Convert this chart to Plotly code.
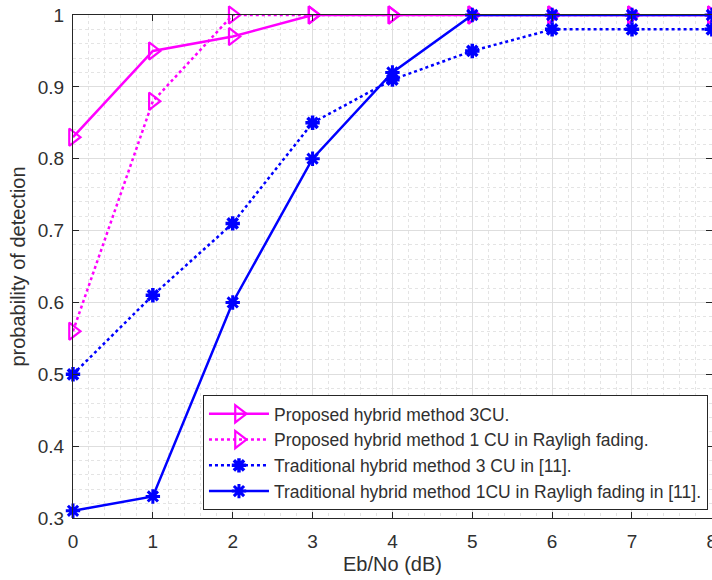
import plotly.graph_objects as go

ebno = [0, 1, 2, 3, 4, 5, 6, 7, 8]
proposed_3cu = [0.83, 0.95, 0.97, 1.0, 1.0, 1.0, 1.0, 1.0, 1.0]
proposed_1cu = [0.56, 0.88, 1.0, 1.0, 1.0, 1.0, 1.0, 1.0, 1.0]
traditional_3cu = [0.50, 0.61, 0.71, 0.85, 0.91, 0.95, 0.98, 0.98, 0.98]
traditional_1cu = [0.31, 0.33, 0.60, 0.80, 0.92, 1.0, 1.0, 1.0, 1.0]

y_ticks = [0.3, 0.4, 0.5, 0.6, 0.7, 0.8, 0.9, 1.0]
y_ticktext = ["0.3", "0.4", "0.5", "0.6", "0.7", "0.8", "0.9", "1"]

names = [
    "Proposed hybrid method 3CU.",
    "Proposed hybrid method 1 CU in Rayligh fading.",
    "Traditional hybrid method 3 CU in [11].",
    "Traditional hybrid method 1CU in Rayligh fading in [11].",
]

MAG = "#ff00ff"
BLUE = "#0000ff"
FONT = "Liberation Sans, Arial, sans-serif"
TXT = "#303030"

fig = go.Figure()
fig.add_trace(go.Scatter(
    x=ebno, y=proposed_3cu, name=names[0], mode="lines+markers",
    line=dict(color=MAG, width=2.5),
    marker=dict(symbol="triangle-right-open", size=15, color=MAG, line=dict(width=2.2, color=MAG)),
    cliponaxis=False))
fig.add_trace(go.Scatter(
    x=ebno, y=proposed_1cu, name=names[1], mode="lines+markers",
    line=dict(color=MAG, width=2.5, dash="dot"),
    marker=dict(symbol="triangle-right-open", size=15, color=MAG, line=dict(width=2.2, color=MAG)),
    cliponaxis=False))
fig.add_trace(go.Scatter(
    x=ebno, y=traditional_3cu, name=names[2], mode="lines+markers",
    line=dict(color=BLUE, width=2.5, dash="dot"),
    marker=dict(symbol="asterisk-open", size=12, color=BLUE, line=dict(width=3.5, color=BLUE)),
    cliponaxis=False))
fig.add_trace(go.Scatter(
    x=ebno, y=traditional_1cu, name=names[3], mode="lines+markers",
    line=dict(color=BLUE, width=2.5),
    marker=dict(symbol="asterisk-open", size=12, color=BLUE, line=dict(width=3, color=BLUE)),
    cliponaxis=False))

axis_common = dict(
    showline=True, linecolor="#262626", linewidth=1, mirror="ticks",
    ticks="inside", ticklen=6, tickcolor="#262626",
    showgrid=True, gridcolor="#dedede", gridwidth=1,
    zeroline=False, automargin=False,
    tickfont=dict(family=FONT, size=19, color=TXT),
)

fig.update_xaxes(
    range=[0, 8.002], tickvals=ebno, ticktext=[str(v) for v in ebno],
    ticklabelstandoff=6, ticklabeloverflow="allow",
    minor=dict(dtick=0.2, showgrid=True, gridcolor="#e4e4e4", griddash="dot", gridwidth=1, ticks=""),
    title=dict(text="Eb/No (dB)", font=dict(family=FONT, size=20, color=TXT), standoff=6),
    **axis_common)
fig.update_yaxes(
    range=[0.3, 1.0], tickvals=y_ticks, ticktext=y_ticktext,
    ticklabelstandoff=4,
    minor=dict(dtick=0.02, showgrid=True, gridcolor="#e4e4e4", griddash="dot", gridwidth=1, ticks=""),
    title=dict(text="probability of detection", font=dict(family=FONT, size=20, color=TXT), standoff=6),
    **axis_common)

fig.update_layout(
    width=712, height=580,
    margin=dict(l=73, r=0, t=15, b=62),
    plot_bgcolor="white", paper_bgcolor="white",
    font=dict(family=FONT, color=TXT),
    legend=dict(
        x=0.2034, y=0.016, xanchor="left", yanchor="bottom",
        bgcolor="white", bordercolor="#262626", borderwidth=1,
        font=dict(family=FONT, size=17.5, color=TXT),
        itemwidth=60, tracegroupgap=0,
    ),
    showlegend=True,
)

fig.write_html("out.html", config={"displayModeBar": False},
               post_script="document.body.style.margin='0';document.body.style.overflow='hidden';")
